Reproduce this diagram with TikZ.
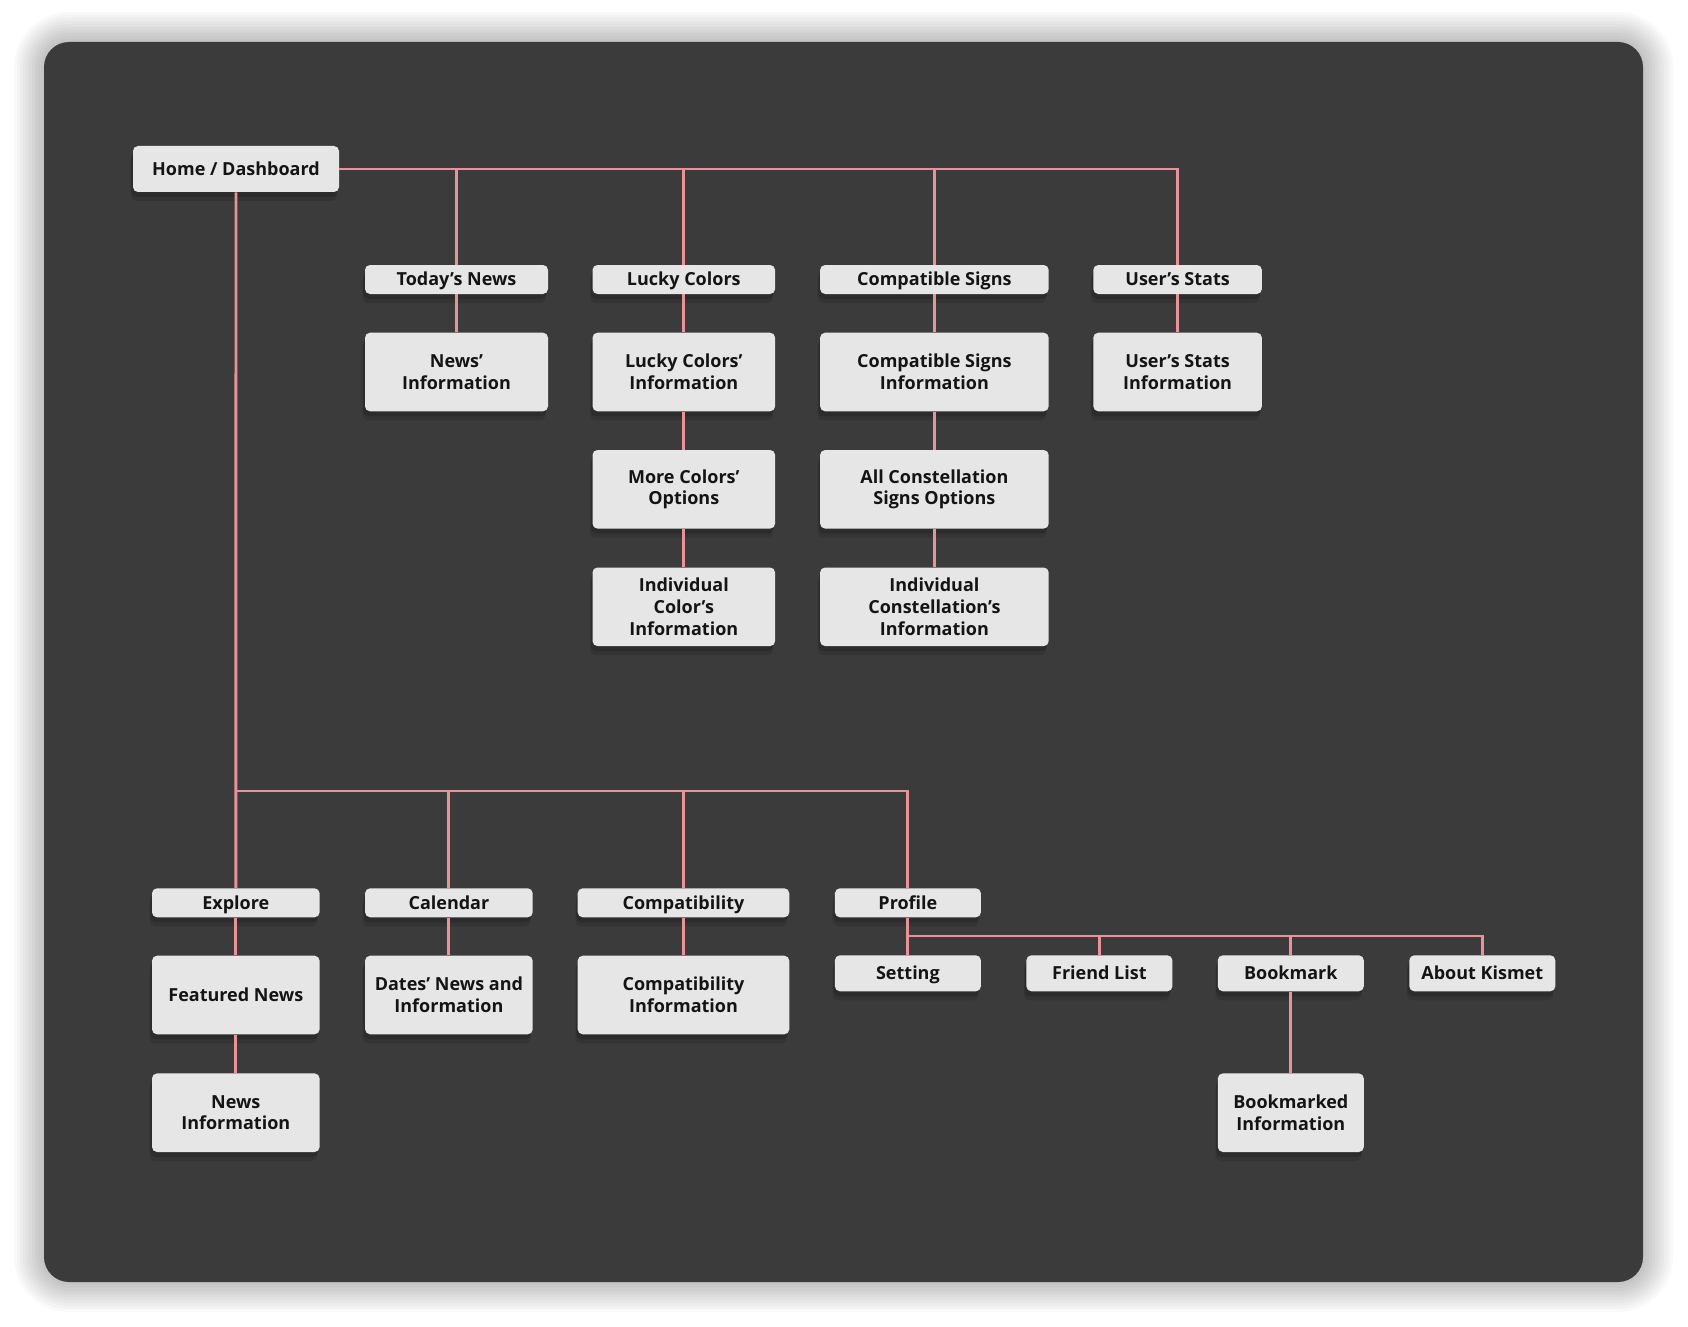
\documentclass[tikz,border=0pt]{standalone}
\usepackage{fontspec}
\setmainfont{Open Sans}
\usepackage{xcolor}
\usepackage{tikz}
\usetikzlibrary{shadows}
\definecolor{panelgray}{HTML}{3B3B3B}
\definecolor{boxgray}{HTML}{E6E6E6}
\definecolor{linkpink}{HTML}{E8939A}
\definecolor{inkblack}{HTML}{141414}
\tikzset{
  card/.style={
    fill=boxgray,
    rounded corners=2.5pt,
    align=center,
    inner sep=0pt,
    text=inkblack,
    font=\fontsize{9}{10.9}\selectfont\bfseries,
    general shadow={fill=black, opacity=0.16, shadow xshift=-0.8pt, shadow yshift=-2.5pt},
    general shadow={fill=black, opacity=0.10, shadow xshift=-1.2pt, shadow yshift=-4.5pt}
  },
  oneline/.style={
    card,
    text height=6.4pt,
    text depth=0pt
  },
  tab/.style={
    oneline,
    minimum height=14.5pt
  },
  infocard/.style={
    card,
    minimum height=39.3pt
  },
  link/.style={draw=linkpink, line width=1.45pt},
  every edge/.style={link}
}

\begin{document}
\begin{tikzpicture}[x=0.5pt,y=-0.5pt]
  \useasboundingbox (0,0) rectangle (1688,1327);
  \fill[white] (0,0) rectangle (1688,1327);
  \foreach \i in {1,...,10}{
    \pgfmathsetmacro\rr{12.5+\i*1.5}
    \fill[black, opacity=0.022, rounded corners=\rr pt]
      (44-3*\i,42-3*\i) rectangle (1643+3*\i,1282+3*\i);
  }
  \fill[panelgray, rounded corners=12.5pt] (44,42) rectangle (1643,1282);

  % home and top row
  \node[oneline, minimum width=103pt, minimum height=23pt] (home) at (236,169) {Home / Dashboard};
  \node[tab, minimum width=91.5pt] (news) at (456.5,279.5) {Today’s News};
  \node[tab, minimum width=91.3pt] (lucky) at (683.8,279.5) {Lucky Colors};
  \node[tab, minimum width=114.3pt] (signs) at (934.4,279.5) {Compatible Signs};
  \node[tab, minimum width=84.3pt] (stats) at (1177.6,279.5) {User’s Stats};

  \node[infocard, minimum width=91.5pt] (newsinfo) at (456.5,372) {News’\\Information};
  \node[infocard, minimum width=91.3pt] (luckyinfo) at (683.8,372) {Lucky Colors’\\Information};
  \node[infocard, minimum width=91.3pt] (morecolors) at (683.8,489.3) {More Colors’\\Options};
  \node[infocard, minimum width=91.3pt] (colorinfo) at (683.8,606.8) {Individual\\Color’s\\Information};
  \node[infocard, minimum width=114.3pt] (signsinfo) at (934.4,372) {Compatible Signs\\Information};
  \node[infocard, minimum width=114.3pt] (allsigns) at (934.4,489.3) {All Constellation\\Signs Options};
  \node[infocard, minimum width=114.3pt] (signinfo) at (934.4,606.8) {Individual\\Constellation’s\\Information};
  \node[infocard, minimum width=84.3pt] (statsinfo) at (1177.6,372) {User’s Stats\\Information};

  % bottom row
  \node[tab, minimum width=83.8pt] (explore) at (235.8,902.8) {Explore};
  \node[tab, minimum width=83.8pt] (calendar) at (448.9,902.8) {Calendar};
  \node[tab, minimum width=105.8pt] (compat) at (683.5,902.8) {Compatibility};
  \node[tab, minimum width=73pt] (profile) at (907.9,902.8) {Profile};

  \node[oneline, minimum width=83.8pt, minimum height=39.3pt] (featured) at (235.8,995) {Featured News};
  \node[infocard, minimum width=83.8pt] (newsdetail) at (235.8,1112.7) {News\\Information};
  \node[infocard, minimum width=83.8pt] (dates) at (448.9,995) {Dates’ News and\\Information};
  \node[infocard, minimum width=105.8pt] (compatinfo) at (683.5,995) {Compatibility\\Information};

  \node[oneline, minimum width=73pt, minimum height=18pt] (setting) at (907.9,973.3) {Setting};
  \node[oneline, minimum width=73pt, minimum height=18pt] (friends) at (1099.4,973.3) {Friend List};
  \node[oneline, minimum width=73pt, minimum height=18pt] (bookmark) at (1290.8,973.3) {Bookmark};
  \node[oneline, minimum width=73pt, minimum height=18pt] (about) at (1482.3,973.3) {About Kismet};
  \node[infocard, minimum width=73pt] (bookmarked) at (1290.8,1112.7) {Bookmarked\\Information};

  \coordinate (lowbus) at (236,791);
  \coordinate (profbus) at (907.9,936);

  \draw[link] (home.east) -| (stats.north);
  \draw[link] (news.north) -- (news.north |- home.east);
  \draw[link] (lucky.north) -- (lucky.north |- home.east);
  \draw[link] (signs.north) -- (signs.north |- home.east);
  \draw[link] (lowbus) -| (profile.north);
  \draw[link] (calendar.north) -- (calendar.north |- lowbus);
  \draw[link] (compat.north) -- (compat.north |- lowbus);
  \draw[link] (profbus) -| (about.north);
  \draw[link] (friends.north) -- (friends.north |- profbus);
  \draw[link] (bookmark.north) -- (bookmark.north |- profbus);

  \path (home.south) edge (explore.north)
        (news) edge (newsinfo)
        (lucky) edge (luckyinfo)
        (luckyinfo) edge (morecolors)
        (morecolors) edge (colorinfo)
        (signs) edge (signsinfo)
        (signsinfo) edge (allsigns)
        (allsigns) edge (signinfo)
        (stats) edge (statsinfo)
        (explore) edge (featured)
        (featured) edge (newsdetail)
        (calendar) edge (dates)
        (compat) edge (compatinfo)
        (profile) edge (setting)
        (bookmark) edge (bookmarked);
\end{tikzpicture}
\end{document}
